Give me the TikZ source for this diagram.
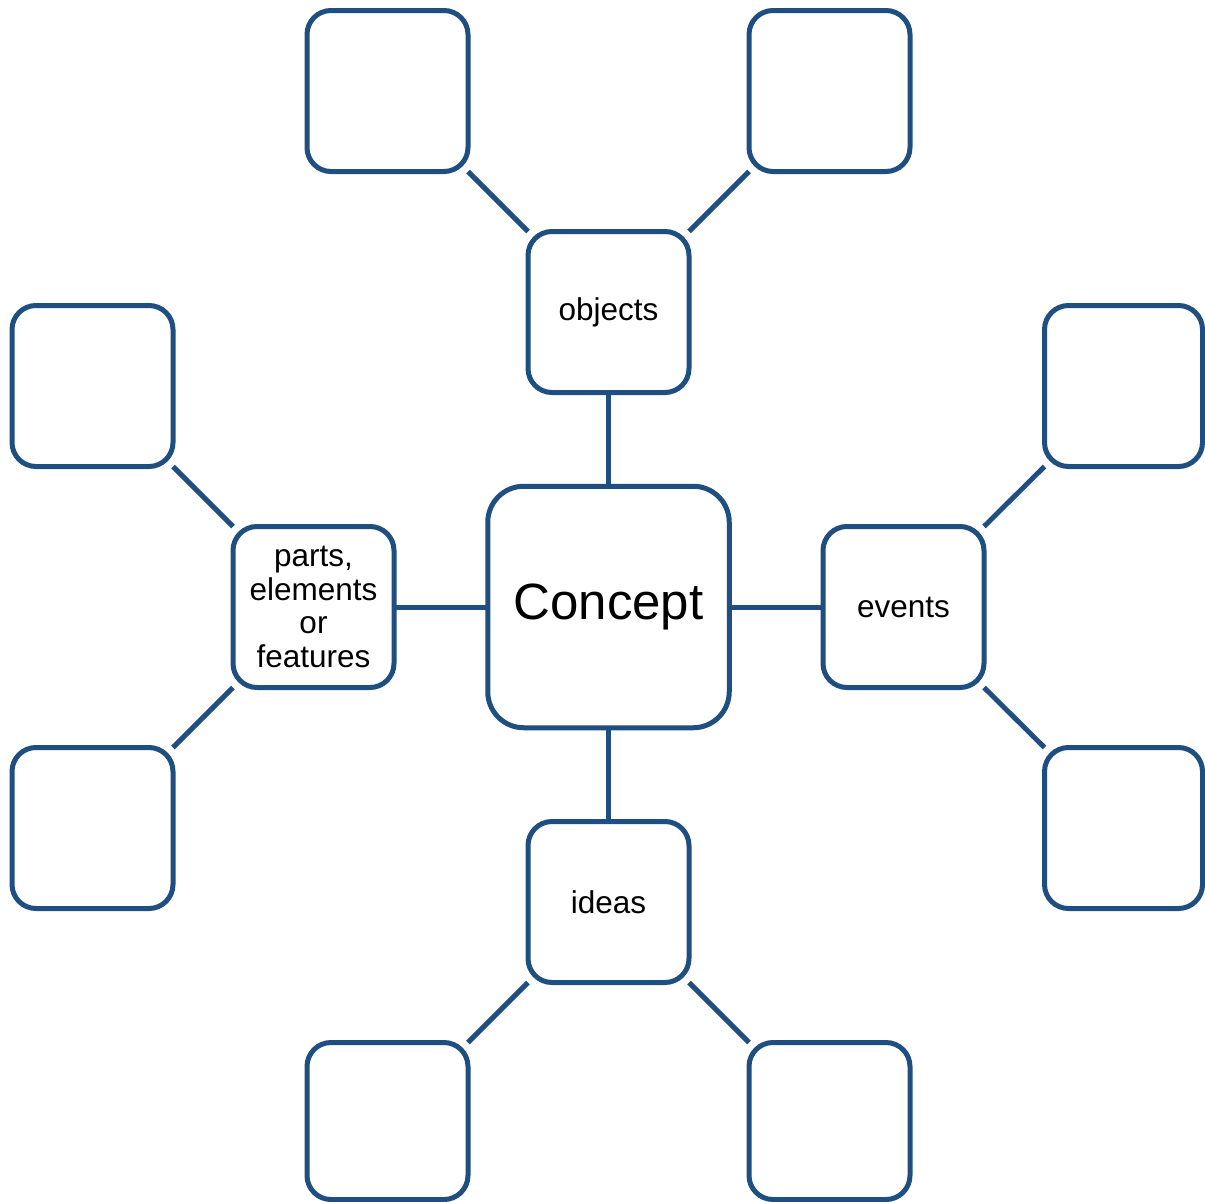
\documentclass[tikz,border=0pt]{standalone}
\usepackage{fontspec}
\setmainfont{Liberation Sans}
\definecolor{bc}{RGB}{31,79,128}
\begin{document}
\begin{tikzpicture}[x=1pt,y=-1pt,
  box/.style={draw=bc, line width=5pt, rectangle, rounded corners=24pt,
    minimum width=161pt, minimum height=161pt, inner sep=0pt, outer sep=0pt,
    align=center, fill=white, font=\fontsize{31.5}{33.5}\selectfont},
  bigbox/.style={box, minimum width=241.5pt, minimum height=241.5pt,
    rounded corners=36pt, font=\fontsize{51}{60}\selectfont},
  link/.style={draw=bc, line width=5pt}]
\useasboundingbox (0,0) rectangle (1205,1202);
% centre
\node[bigbox] (c) at (608.5,607) {\raisebox{-2pt}{Concept}};
% middle ring
\node[box] (obj) at (608.5,312) {\raisebox{-1pt}{objects}};
\node[box] (evt) at (903.5,607) {events};
\node[box] (par) at (313.5,607) {parts,\\elements\\or\\features};
\node[box] (ide) at (608.5,902) {ideas};
% outer boxes
\node[box] (o1) at (387.5,91) {};
\node[box] (o2) at (829.5,91) {};
\node[box] (p1) at (92.5,386) {};
\node[box] (p2) at (92.5,828) {};
\node[box, minimum width=158pt] (e1) at (1123.5,386) {};
\node[box, minimum width=158pt] (e2) at (1123.5,828) {};
\node[box, minimum height=157pt] (i1) at (387.5,1121) {};
\node[box, minimum height=157pt] (i2) at (829.5,1121) {};
% links from centre
\draw[link] (c.north) -- (obj.south);
\draw[link] (c.east) -- (evt.west);
\draw[link] (c.west) -- (par.east);
\draw[link] (c.south) -- (ide.north);
% diagonal links
\draw[link] (obj.north west) -- (o1.south east);
\draw[link] (obj.north east) -- (o2.south west);
\draw[link] (par.north west) -- (p1.south east);
\draw[link] (par.south west) -- (p2.north east);
\draw[link] (evt.north east) -- (e1.south west);
\draw[link] (evt.south east) -- (e2.north west);
\draw[link] (ide.south west) -- (i1.north east);
\draw[link] (ide.south east) -- (i2.north west);
\end{tikzpicture}
\end{document}
